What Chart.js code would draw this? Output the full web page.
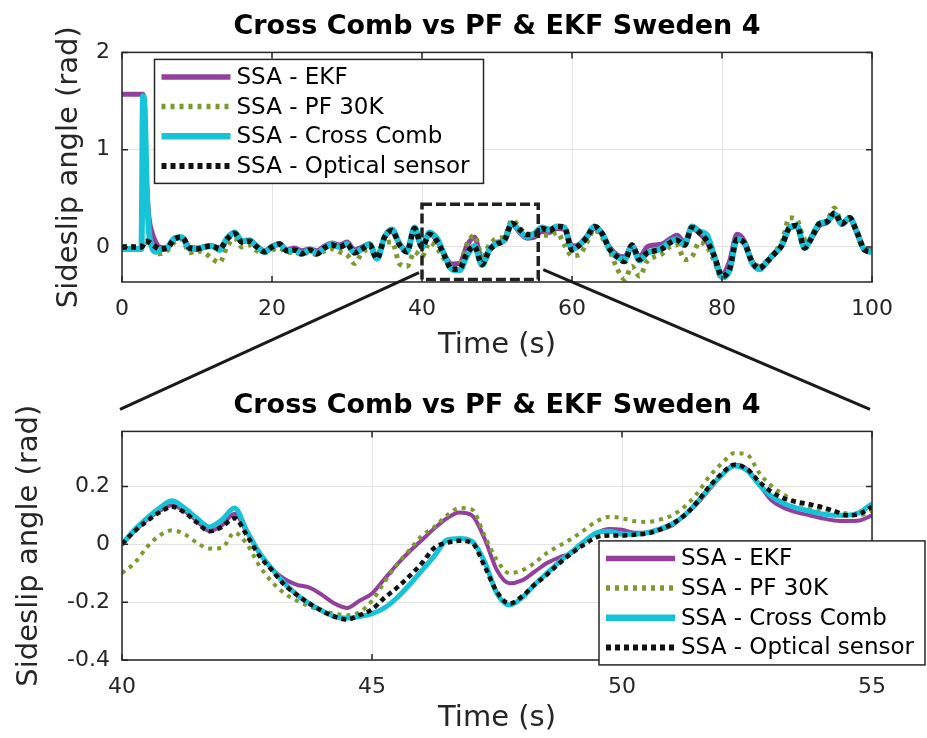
<!DOCTYPE html>
<html>
<head>
<meta charset="utf-8">
<script src="https://cdn.jsdelivr.net/npm/chart.js@4"></script>
<style>
body { margin: 0; background: #fff; }
#wrap { position: relative; width: 927px; height: 738px; overflow: hidden; background: #fff; }
#wrap canvas { position: absolute; left: 0; }
</style>
</head>
<body>
<div id="wrap">
  <canvas id="topChart" width="927" height="370" style="top:0px"></canvas>
  <canvas id="zoomChart" width="927" height="359" style="top:379px"></canvas>
  <canvas id="links" width="927" height="738" style="top:0px"></canvas>
</div>
<script>
var seriesNames = ["SSA - EKF", "SSA - PF 30K", "SSA - Cross Comb", "SSA - Optical sensor"];

// whole run, time in s (extra samples around the start-up spike)
var timeTop = [0, 1, 2, 2.6, 2.8, 3, 3.3, 3.6, 4, 4.5].concat(Array.from({length: 96}, (_, i) => 5 + i));

var ekfTop = [1.57, 1.57, 1.57, 1.57, 1.57, 1.2, 0.6, 0.3, 0.15, 0.05,
  0.0, -0.01, 0.08, 0.1, 0.0, -0.01, 0.0, 0.01, -0.01, 0.08,
  0.14, 0.06, 0.06, 0.01, -0.04, 0.01, 0.03, -0.03, -0.01, -0.04,
  -0.02, -0.04, 0.01, 0.04, 0.02, 0.05, -0.03, 0.0, 0.03, -0.1,
  0.1, 0.16, 0.03, -0.03, 0.18, 0.0, 0.135, 0.065, -0.085, -0.175,
  -0.17, 0.015, 0.1, -0.125, -0.03, 0.05, 0.065, 0.24, 0.15, 0.09,
  0.1, 0.16, 0.15, 0.19, 0.18, 0.01, 0.03, 0.1, 0.19, 0.13,
  0.0, -0.08, -0.1, 0.02, -0.1, 0.0, 0.02, 0.03, 0.08, 0.12,
  0.05, 0.19, 0.14, 0.05, -0.1, -0.28, -0.15, 0.13, 0.06, -0.15,
  -0.2, -0.16, -0.06, 0.02, 0.19, 0.21, 0.0, 0.1, 0.22, 0.25,
  0.33, 0.23, 0.29, 0.14, -0.03, -0.04];

var pfTop = [0, 0, 0, 0, 0.03, 0.06, 0.05, 0.02, -0.02, -0.06,
  -0.07, -0.04, 0.05, 0.08, -0.06, -0.04, -0.06, -0.12, -0.16, 0.0,
  0.09, 0.0, 0.02, -0.04, -0.06, -0.03, -0.01, -0.06, -0.05, -0.08,
  -0.05, -0.08, -0.04, -0.02, -0.05, -0.08, -0.17, -0.06, -0.02, -0.1,
  0.04, 0.05, -0.17, -0.2, -0.05, -0.1, 0.048, -0.012, -0.13, -0.23,
  -0.195, 0.03, 0.12, -0.09, 0.02, 0.09, 0.1, 0.28, 0.2, 0.12,
  0.115, 0.12, 0.12, 0.15, 0.02, -0.09, -0.08, 0.05, 0.18, 0.1,
  -0.03, -0.22, -0.33, -0.2, -0.3, -0.15, -0.1, -0.07, 0.0, 0.02,
  -0.13, -0.1, 0.05, 0.0, -0.15, -0.33, -0.23, 0.05, 0.03, -0.14,
  -0.2, -0.14, -0.05, 0.05, 0.3, 0.28, 0.08, 0.12, 0.23, 0.27,
  0.4, 0.25, 0.3, 0.15, -0.02, -0.04];

var crossTop = [-0.02, -0.02, -0.02, -0.02, 1.55, 1.45, 0.6, 0.15, 0.0, -0.05,
  -0.03, -0.01, 0.09, 0.1, -0.02, -0.02, 0.0, 0.01, -0.03, 0.09,
  0.15, 0.06, 0.07, 0.0, -0.05, 0.0, 0.03, -0.04, -0.03, -0.07,
  -0.03, -0.06, -0.01, 0.03, 0.0, 0.03, -0.06, -0.02, 0.03, -0.12,
  0.1, 0.18, 0.03, -0.05, 0.2, 0.0, 0.15, 0.085, -0.085, -0.23,
  -0.24, -0.09, 0.01, -0.185, -0.025, 0.035, 0.07, 0.24, 0.165, 0.105,
  0.14, 0.2, 0.18, 0.21, 0.2, -0.02, 0.02, 0.11, 0.21, 0.14,
  -0.02, -0.1, -0.13, 0.01, -0.14, -0.06, -0.04, -0.01, 0.05, 0.08,
  0.02, 0.21, 0.16, 0.12, -0.1, -0.31, -0.24, 0.08, 0.04, -0.16,
  -0.23, -0.15, -0.07, 0.02, 0.2, 0.22, -0.01, 0.11, 0.24, 0.26,
  0.34, 0.24, 0.3, 0.15, -0.03, -0.05];

var opticalTop = [0, 0, 0, 0, 0.02, 0.05, 0.06, 0.05, 0.03, 0.0,
  -0.02, -0.01, 0.08, 0.1, -0.01, -0.02, 0.0, 0.01, -0.02, 0.08,
  0.14, 0.05, 0.06, 0.0, -0.05, 0.0, 0.03, -0.04, -0.03, -0.07,
  -0.03, -0.07, -0.01, 0.02, 0.0, 0.03, -0.06, -0.02, 0.02, -0.12,
  0.1, 0.17, 0.02, -0.05, 0.19, 0.0, 0.13, 0.06, -0.09, -0.23,
  -0.225, -0.065, 0.005, -0.18, -0.03, 0.03, 0.07, 0.245, 0.18, 0.128,
  0.13, 0.19, 0.17, 0.21, 0.2, -0.03, 0.02, 0.1, 0.21, 0.14,
  -0.02, -0.1, -0.15, 0.02, -0.13, -0.06, -0.04, -0.02, 0.04, 0.07,
  0.02, 0.2, 0.15, 0.06, -0.1, -0.3, -0.23, 0.08, 0.04, -0.15,
  -0.22, -0.15, -0.07, 0.02, 0.2, 0.22, -0.01, 0.1, 0.24, 0.26,
  0.35, 0.24, 0.3, 0.15, -0.03, -0.05];

// zoomed window 40..55 s, every 0.25 s
var timeZoom = Array.from({length: 61}, (_, i) => 40 + i * 0.25);

var ekfZoom = [0, 0.045, 0.085, 0.115,
  0.135, 0.115, 0.08, 0.045,
  0.065, 0.105, 0.04, -0.03,
  -0.085, -0.12, -0.14, -0.15,
  -0.175, -0.205, -0.22, -0.195,
  -0.17, -0.12, -0.07, -0.025,
  0.015, 0.055, 0.09, 0.11,
  0.1, 0.02, -0.09, -0.135,
  -0.125, -0.095, -0.065, -0.045,
  -0.03, 0.01, 0.04, 0.053,
  0.05, 0.04, 0.04, 0.05,
  0.065, 0.1, 0.14, 0.19,
  0.24, 0.275, 0.26, 0.205,
  0.15, 0.125, 0.11, 0.1,
  0.09, 0.082, 0.08, 0.082,
  0.1];

var pfZoom = [-0.1, -0.065, -0.01, 0.03,
  0.048, 0.035, 0.005, -0.015,
  -0.012, 0.04, 0.0, -0.075,
  -0.13, -0.17, -0.195, -0.215,
  -0.23, -0.24, -0.245, -0.235,
  -0.195, -0.13, -0.07, -0.02,
  0.03, 0.06, 0.1, 0.125,
  0.12, 0.03, -0.055, -0.1,
  -0.09, -0.065, -0.03, -0.005,
  0.02, 0.05, 0.08, 0.095,
  0.09, 0.08, 0.077, 0.085,
  0.1, 0.13, 0.175, 0.235,
  0.28, 0.315, 0.31, 0.245,
  0.2, 0.17, 0.145, 0.128,
  0.12, 0.112, 0.106, 0.1,
  0.115];

var crossZoom = [0, 0.05, 0.09, 0.125,
  0.15, 0.125, 0.09, 0.06,
  0.085, 0.125, 0.045, -0.03,
  -0.085, -0.135, -0.175, -0.205,
  -0.23, -0.25, -0.255, -0.25,
  -0.24, -0.22, -0.185, -0.14,
  -0.09, -0.04, 0.015, 0.02,
  0.01, -0.06, -0.17, -0.21,
  -0.185, -0.14, -0.1, -0.06,
  -0.025, 0.01, 0.04, 0.045,
  0.035, 0.035, 0.04, 0.052,
  0.07, 0.1, 0.145, 0.195,
  0.24, 0.27, 0.255, 0.205,
  0.165, 0.14, 0.125, 0.115,
  0.105, 0.1, 0.1, 0.11,
  0.14];

var opticalZoom = [0, 0.045, 0.08, 0.11,
  0.13, 0.11, 0.075, 0.045,
  0.06, 0.09, 0.03, -0.04,
  -0.09, -0.14, -0.175, -0.205,
  -0.23, -0.25, -0.26, -0.245,
  -0.225, -0.185, -0.15, -0.11,
  -0.065, -0.012, 0.005, 0.012,
  0.005, -0.075, -0.165, -0.205,
  -0.18, -0.14, -0.105, -0.065,
  -0.03, 0.0, 0.025, 0.03,
  0.03, 0.033, 0.037, 0.05,
  0.07, 0.1, 0.145, 0.2,
  0.245, 0.275, 0.26, 0.215,
  0.18, 0.158, 0.146, 0.138,
  0.128, 0.115, 0.1, 0.105,
  0.13];

var xTicksTop = [0, 20, 40, 60, 80, 100];
var yTicksTop = [0, 1, 2];
var xTicksZoom = [40, 45, 50, 55];
var yTicksZoom = [-0.4, -0.2, 0, 0.2];

var lineStyles = [
  {color: "#93409c", width: 4, dash: []},
  {color: "#7d9a32", width: 4, dash: [4, 5]},
  {color: "#17c3d6", width: 5, dash: []},
  {color: "#111111", width: 4.5, dash: [5, 4]}
];

Chart.defaults.font.family = '"DejaVu Sans", sans-serif';
Chart.defaults.color = "#262626";

buildDatasets = (values, extraWidth) => values.map((v, i) => ({
  label: seriesNames[i],
  data: v,
  borderColor: lineStyles[i].color,
  borderWidth: lineStyles[i].width + extraWidth,
  borderDash: lineStyles[i].dash,
  pointRadius: 0,
  fill: false,
  cubicInterpolationMode: "monotone",
  order: values.length - i
}));

// matlab style box with inward ticks
var framePlugin = {
  id: "frame",
  afterDatasetsDraw(chart) {
    var ctx = chart.ctx, a = chart.chartArea, x = chart.scales.x, y = chart.scales.y;
    ctx.save();
    ctx.strokeStyle = "#262626";
    ctx.lineWidth = 1.5;
    ctx.strokeRect(a.left, a.top, a.right - a.left, a.bottom - a.top);
    ctx.beginPath();
    x.ticks.forEach(t => {
      var px = x.getPixelForValue(t.value);
      ctx.moveTo(px, a.bottom); ctx.lineTo(px, a.bottom - 6);
      ctx.moveTo(px, a.top); ctx.lineTo(px, a.top + 6);
    });
    y.ticks.forEach(t => {
      var py = y.getPixelForValue(t.value);
      ctx.moveTo(a.left, py); ctx.lineTo(a.left + 6, py);
      ctx.moveTo(a.right, py); ctx.lineTo(a.right - 6, py);
    });
    ctx.stroke();
    ctx.restore();
  }
};

var zoomBoxPlugin = {
  id: "zoomBox",
  afterDatasetsDraw(chart) {
    var ctx = chart.ctx, x = chart.scales.x, y = chart.scales.y;
    var l = x.getPixelForValue(40), r = x.getPixelForValue(55.5);
    var t = y.getPixelForValue(0.44), b = y.getPixelForValue(-0.335);
    ctx.save();
    ctx.strokeStyle = "#222";
    ctx.lineWidth = 3.5;
    ctx.setLineDash([10, 4]);
    ctx.strokeRect(l, t, r - l, b - t);
    ctx.restore();
  }
};

var boxLegendPlugin = {
  id: "boxLegend",
  afterDraw(chart, args, opts) {
    var ctx = chart.ctx, a = chart.chartArea;
    var bx = a.left + opts.left, by = a.top + opts.top;
    ctx.save();
    ctx.fillStyle = "#fff";
    ctx.fillRect(bx, by, opts.width, opts.height);
    ctx.strokeStyle = "#262626";
    ctx.lineWidth = 1.5;
    ctx.strokeRect(bx, by, opts.width, opts.height);
    ctx.font = '23px "DejaVu Sans"';
    ctx.textBaseline = "middle";
    ctx.fillStyle = "#000";
    chart.data.datasets.forEach((ds, i) => {
      var cy = by + 17.5 + i * 29.7;
      ctx.beginPath();
      ctx.setLineDash(ds.borderDash);
      ctx.strokeStyle = ds.borderColor;
      ctx.lineWidth = lineStyles[i].width + 1.5;
      ctx.moveTo(bx + 7, cy);
      ctx.lineTo(bx + 76, cy);
      ctx.stroke();
      ctx.setLineDash([]);
      ctx.fillText(ds.label, bx + 82, cy + 1);
    });
    ctx.restore();
  }
};

plotChart = (id, labels, values, o) => new Chart(document.getElementById(id).getContext("2d"), {
  type: "line",
  data: {labels: labels, datasets: buildDatasets(values, o.extraWidth)},
  options: {
    responsive: false,
    animation: false,
    devicePixelRatio: 1,
    layout: {padding: {left: 0, right: 55, top: 0, bottom: 0}},
    plugins: {
      legend: {display: false},
      tooltip: {enabled: false},
      title: {
        display: true, fullSize: false, text: "Cross Comb vs PF & EKF Sweden 4",
        color: "#000", font: {size: 27, weight: "bold"}, padding: {top: 11, bottom: 9}
      },
      boxLegend: o.legend
    },
    scales: {
      x: {
        type: "linear", min: o.xMin, max: o.xMax,
        afterBuildTicks: s => { s.ticks = o.xTicks.map(v => ({value: v})); },
        afterFit: s => { s.height = o.xHeight; },
        grid: {color: "#e3e3e3", drawTicks: false},
        border: {display: false},
        ticks: {padding: 14, font: {size: 22}, callback: v => String(v), maxRotation: 0},
        title: {display: true, text: "Time (s)", font: {size: 29}, padding: {top: 0, bottom: o.xTitlePad}}
      },
      y: {
        min: o.yMin, max: o.yMax,
        afterBuildTicks: s => { s.ticks = o.yTicks.map(v => ({value: v})); },
        afterFit: s => { s.width = 122; },
        grid: {color: "#e3e3e3", drawTicks: false},
        border: {display: false},
        ticks: {padding: 12, font: {size: 22}, callback: v => String(v)},
        title: {display: true, text: "Sideslip angle (rad)", font: {size: 29}, padding: {top: o.yTitlePad, bottom: 0}}
      }
    }
  },
  plugins: o.extra.concat([framePlugin, boxLegendPlugin])
});

var topChart = plotChart("topChart", timeTop, [ekfTop, pfTop, crossTop, opticalTop], {
  xMin: 0, xMax: 100, yMin: -0.36, yMax: 2,
  xTicks: xTicksTop, yTicks: yTicksTop,
  xHeight: 88, xTitlePad: 7, yTitlePad: 52, extraWidth: 1,
  legend: {left: 32.5, top: 7, width: 329, height: 124},
  extra: [zoomBoxPlugin]
});

var zoomChart = plotChart("zoomChart", timeZoom, [ekfZoom, pfZoom, crossZoom, opticalZoom], {
  xMin: 40, xMax: 55, yMin: -0.4, yMax: 0.39,
  xTicks: xTicksZoom, yTicks: yTicksZoom,
  xHeight: 78, xTitlePad: 2, yTitlePad: 12, extraWidth: 0,
  legend: {left: 477, top: 109.5, width: 326, height: 124},
  extra: []
});

// lines joining the dashed box to the zoomed axes
drawLinks = () => {
  var ctx = document.getElementById("links").getContext("2d");
  var off = document.getElementById("zoomChart").offsetTop;
  var xs = topChart.scales.x, ys = topChart.scales.y, za = zoomChart.chartArea;
  var boxL = xs.getPixelForValue(40), boxR = xs.getPixelForValue(55.5), boxB = ys.getPixelForValue(-0.335);
  var yLow = off + za.top - 22;
  ctx.strokeStyle = "#1a1a1a";
  ctx.lineWidth = 3;
  ctx.beginPath();
  ctx.moveTo(za.left - 2, yLow);
  ctx.lineTo(boxL - 3, boxB - 7);
  ctx.moveTo(boxR + 5, boxB - 10);
  ctx.lineTo(za.right - 2, yLow);
  ctx.stroke();
}

drawLinks();
</script>
</body>
</html>
